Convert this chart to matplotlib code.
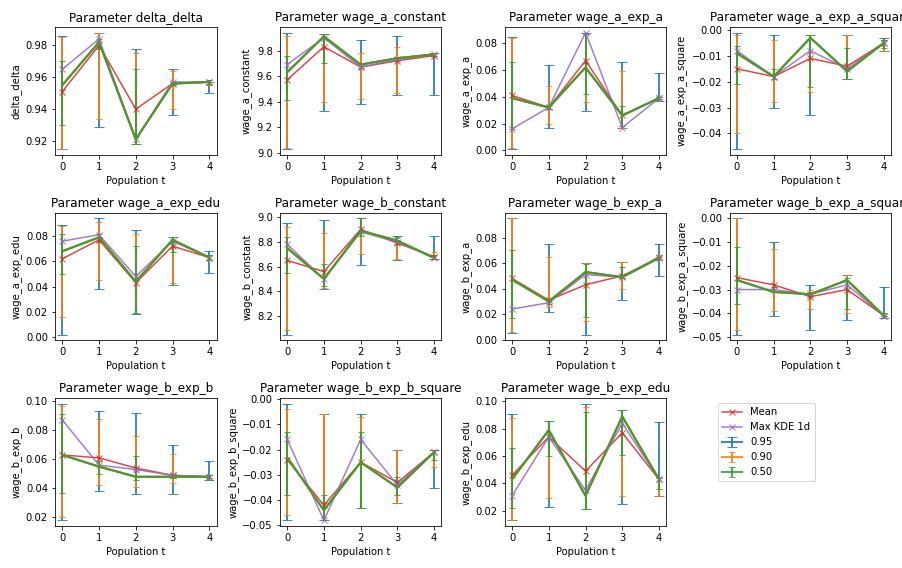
import matplotlib
matplotlib.use("Agg")
import matplotlib.pyplot as plt
import numpy as np

t = [0, 1, 2, 3, 4]
params = ["delta_delta", "wage_a_constant", "wage_a_exp_a", "wage_a_exp_a_square",
          "wage_a_exp_edu", "wage_b_constant", "wage_b_exp_a", "wage_b_exp_a_square",
          "wage_b_exp_b", "wage_b_exp_b_square", "wage_b_exp_edu"]
levels = ["0.95", "0.90", "0.50"]

median = {
    "delta_delta": [0.955, 0.982, 0.921, 0.956, 0.957],
    "wage_a_constant": [9.63, 9.91, 9.69, 9.74, 9.77],
    "wage_a_exp_a": [0.039, 0.032, 0.062, 0.026, 0.039],
    "wage_a_exp_a_square": [-0.009, -0.018, -0.003, -0.016, -0.005],
    "wage_a_exp_edu": [0.068, 0.079, 0.044, 0.077, 0.063],
    "wage_b_constant": [8.75, 8.50, 8.89, 8.81, 8.67],
    "wage_b_exp_a": [0.047, 0.030, 0.053, 0.049, 0.064],
    "wage_b_exp_a_square": [-0.026, -0.031, -0.032, -0.026, -0.041],
    "wage_b_exp_b": [0.063, 0.055, 0.048, 0.048, 0.048],
    "wage_b_exp_b_square": [-0.023, -0.044, -0.025, -0.035, -0.021],
    "wage_b_exp_edu": [0.043, 0.079, 0.031, 0.089, 0.043],
}
mean = {
    "delta_delta": [0.951, 0.980, 0.940, 0.956, 0.957],
    "wage_a_constant": [9.57, 9.83, 9.67, 9.72, 9.76],
    "wage_a_exp_a": [0.041, 0.032, 0.067, 0.026, 0.039],
    "wage_a_exp_a_square": [-0.015, -0.018, -0.011, -0.014, -0.005],
    "wage_a_exp_edu": [0.062, 0.077, 0.043, 0.072, 0.063],
    "wage_b_constant": [8.65, 8.56, 8.90, 8.79, 8.68],
    "wage_b_exp_a": [0.048, 0.031, 0.043, 0.050, 0.064],
    "wage_b_exp_a_square": [-0.025, -0.028, -0.033, -0.030, -0.041],
    "wage_b_exp_b": [0.063, 0.061, 0.054, 0.049, 0.048],
    "wage_b_exp_b_square": [-0.024, -0.042, -0.025, -0.033, -0.021],
    "wage_b_exp_edu": [0.046, 0.074, 0.049, 0.077, 0.043],
}
kde = {
    "delta_delta": [0.965, 0.984, 0.921, 0.957, 0.957],
    "wage_a_constant": [9.69, 9.90, 9.67, 9.73, 9.77],
    "wage_a_exp_a": [0.016, 0.032, 0.088, 0.017, 0.039],
    "wage_a_exp_a_square": [-0.008, -0.018, -0.008, -0.015, -0.005],
    "wage_a_exp_edu": [0.076, 0.081, 0.048, 0.076, 0.063],
    "wage_b_constant": [8.78, 8.50, 8.88, 8.80, 8.67],
    "wage_b_exp_a": [0.024, 0.029, 0.051, 0.049, 0.065],
    "wage_b_exp_a_square": [-0.030, -0.030, -0.032, -0.028, -0.041],
    "wage_b_exp_b": [0.087, 0.056, 0.053, 0.049, 0.048],
    "wage_b_exp_b_square": [-0.016, -0.048, -0.016, -0.034, -0.021],
    "wage_b_exp_edu": [0.031, 0.074, 0.035, 0.084, 0.043],
}
intervals = {
    "delta_delta": [
        ([0.915, 0.929, 0.918, 0.936, 0.950], [0.986, 0.988, 0.978, 0.965, 0.957]),
        ([0.915, 0.934, 0.918, 0.940, 0.955], [0.985, 0.988, 0.975, 0.964, 0.957]),
        ([0.930, 0.978, 0.918, 0.955, 0.956], [0.970, 0.984, 0.965, 0.957, 0.958])],
    "wage_a_constant": [
        ([9.03, 9.33, 9.38, 9.45, 9.45], [9.94, 9.93, 9.88, 9.91, 9.78]),
        ([9.04, 9.40, 9.42, 9.47, 9.76], [9.91, 9.93, 9.78, 9.83, 9.78]),
        ([9.41, 9.70, 9.66, 9.72, 9.76], [9.76, 9.93, 9.70, 9.75, 9.78])],
    "wage_a_exp_a": [
        ([0.001, 0.017, 0.029, 0.017, 0.037], [0.085, 0.064, 0.088, 0.066, 0.058]),
        ([0.002, 0.020, 0.036, 0.017, 0.038], [0.084, 0.048, 0.087, 0.059, 0.040]),
        ([0.016, 0.031, 0.042, 0.018, 0.038], [0.066, 0.033, 0.087, 0.033, 0.040])],
    "wage_a_exp_a_square": [
        ([-0.046, -0.030, -0.033, -0.019, -0.008], [-0.001, -0.002, -0.002, -0.002, -0.003]),
        ([-0.040, -0.028, -0.024, -0.019, -0.008], [-0.002, -0.004, -0.002, -0.002, -0.004]),
        ([-0.021, -0.019, -0.022, -0.019, -0.007], [-0.006, -0.015, -0.002, -0.007, -0.004])],
    "wage_a_exp_edu": [
        ([0.002, 0.038, 0.018, 0.041, 0.051], [0.089, 0.094, 0.085, 0.079, 0.068]),
        ([0.016, 0.045, 0.019, 0.043, 0.061], [0.088, 0.091, 0.082, 0.079, 0.065]),
        ([0.050, 0.075, 0.019, 0.067, 0.062], [0.082, 0.082, 0.072, 0.079, 0.065])],
    "wage_b_constant": [
        ([8.05, 8.42, 8.61, 8.65, 8.66], [8.95, 8.98, 8.99, 8.85, 8.85]),
        ([8.09, 8.43, 8.70, 8.66, 8.66], [8.92, 8.87, 8.99, 8.83, 8.72]),
        ([8.55, 8.44, 8.85, 8.78, 8.66], [8.84, 8.62, 8.99, 8.84, 8.69])],
    "wage_b_exp_a": [
        ([0.005, 0.022, 0.004, 0.031, 0.050], [0.095, 0.075, 0.060, 0.061, 0.075]),
        ([0.006, 0.026, 0.015, 0.040, 0.063], [0.095, 0.065, 0.060, 0.061, 0.066]),
        ([0.017, 0.028, 0.018, 0.048, 0.063], [0.070, 0.031, 0.059, 0.057, 0.065])],
    "wage_b_exp_a_square": [
        ([-0.049, -0.041, -0.047, -0.043, -0.042], [0.000, -0.010, -0.028, -0.024, -0.029]),
        ([-0.047, -0.039, -0.038, -0.040, -0.041], [0.000, -0.013, -0.030, -0.024, -0.041]),
        ([-0.036, -0.031, -0.033, -0.038, -0.041], [-0.012, -0.029, -0.031, -0.025, -0.040])],
    "wage_b_exp_b": [
        ([0.018, 0.038, 0.036, 0.036, 0.046], [0.098, 0.093, 0.092, 0.070, 0.059]),
        ([0.020, 0.042, 0.041, 0.044, 0.047], [0.097, 0.088, 0.076, 0.064, 0.049]),
        ([0.037, 0.050, 0.046, 0.047, 0.047], [0.091, 0.059, 0.062, 0.050, 0.049])],
    "wage_b_exp_b_square": [
        ([-0.048, -0.048, -0.043, -0.041, -0.035], [-0.002, -0.006, -0.006, -0.020, -0.020]),
        ([-0.046, -0.048, -0.043, -0.041, -0.027], [-0.004, -0.006, -0.007, -0.020, -0.020]),
        ([-0.038, -0.048, -0.043, -0.038, -0.024], [-0.013, -0.038, -0.013, -0.031, -0.020])],
    "wage_b_exp_edu": [
        ([0.013, 0.023, 0.021, 0.025, 0.031], [0.091, 0.086, 0.098, 0.094, 0.085]),
        ([0.013, 0.029, 0.021, 0.031, 0.031], [0.088, 0.086, 0.096, 0.094, 0.044]),
        ([0.022, 0.060, 0.021, 0.061, 0.036], [0.066, 0.086, 0.092, 0.094, 0.044])],
}

fig, axes = plt.subplots(3, 4, figsize=(902 / 72, 568 / 72), dpi=72)
axs = axes.flatten()
colors = ["C0", "C1", "C2"]
for i, p in enumerate(params):
    ax = axs[i]
    med = np.array(median[p])
    for j, lev in enumerate(levels):
        lo, hi = np.array(intervals[p][j][0]), np.array(intervals[p][j][1])
        yerr = np.vstack([np.clip(med - lo, 0, None), np.clip(hi - med, 0, None)])
        ax.errorbar(t, med, yerr=yerr, color=colors[j], capsize=(5 if j == 0 else 3),
                    alpha=0.85, lw=2, label=lev)
    ax.plot(t, mean[p], "x-", color="C3", alpha=0.85, label="Mean")
    ax.plot(t, kde[p], "x-", color="C4", alpha=0.85, label="Max KDE 1d")
    ax.set_title(f"Parameter {p}")
    ax.set_xlabel("Population t")
    ax.set_ylabel(p)
    ax.set_xticks(t)

handles, labels = axs[10].get_legend_handles_labels()
want = ["Mean", "Max KDE 1d", "0.95", "0.90", "0.50"]
hmap = dict(zip(labels, handles))
axs[11].axis("off")
fig.tight_layout()
axs[11].legend([hmap[k] for k in want], want, loc="upper left",
               bbox_to_anchor=(-0.1, 1.0))
fig.savefig("out.png")
